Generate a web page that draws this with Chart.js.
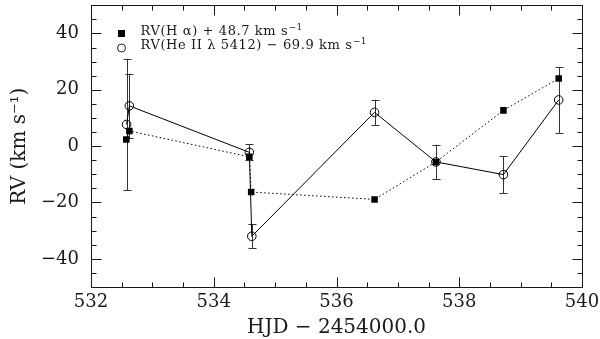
<!DOCTYPE html>
<html>
<head>
<meta charset="utf-8">
<script src="https://cdn.jsdelivr.net/npm/chart.js@4/dist/chart.umd.min.js"></script>
<style>
  html, body { margin: 0; padding: 0; background: #fff; }
  #wrap { width: 600px; height: 339px; }
</style>
</head>
<body>
<div id="wrap"><canvas id="c" width="600" height="339"></canvas></div>
<script>
// ---- data ----
const hjdHa = [532.575, 532.625, 534.58, 534.61, 536.62, 537.62, 538.72, 539.62];
const rvHa  = [2.4, 5.4, -3.8, -16.3, -18.9, -5.6, 12.7, 24.0];

const hjdHe = [532.58, 532.625, 534.58, 534.62, 536.62, 537.62, 538.72, 539.62];
const rvHe  = [7.7, 14.3, -2.2, -32.0, 12.0, -5.6, -10.1, 16.4];
const errHe = [23.3, 11.4, 2.8, 4.3, 4.5, 6.1, 6.6, 11.7];

const xTicks = [532, 534, 536, 538, 540];
const yTicks = [-40, -20, 0, 20, 40];
const xMinorStep = 0.5;
const yMinorStep = 5;

const labelHa = 'RV(H \u03B1) + 48.7 km s';
const labelHe = 'RV(He II \u03BB 5412) \u2212 69.9 km s';
const xTitle = 'HJD \u2212 2454000.0';
const yTitle = 'RV (km s\u207B\u00B9)';

// ---- chart ----
const FONT = "'DejaVu Serif', 'Liberation Serif', serif";
const INK = '#1a1a1a';

const errorBars = {
  id: 'errorBars',
  beforeDatasetsDraw(chart) {
    const { ctx, scales: { x, y } } = chart;
    ctx.save();
    ctx.strokeStyle = '#333';
    ctx.lineWidth = 1;
    for (let i = 0; i < hjdHe.length; i++) {
      const px = Math.round(x.getPixelForValue(hjdHe[i])) + 0.5;
      const yt = y.getPixelForValue(rvHe[i] + errHe[i]);
      const yb = y.getPixelForValue(rvHe[i] - errHe[i]);
      ctx.beginPath();
      ctx.moveTo(px, yt); ctx.lineTo(px, yb);
      ctx.moveTo(px - 4, Math.round(yt) + 0.5); ctx.lineTo(px + 4, Math.round(yt) + 0.5);
      ctx.moveTo(px - 4, Math.round(yb) + 0.5); ctx.lineTo(px + 4, Math.round(yb) + 0.5);
      ctx.stroke();
    }
    ctx.restore();
  }
};

const frameAndTicks = {
  id: 'frameAndTicks',
  afterDraw(chart) {
    const { ctx, scales: { x, y } } = chart;
    ctx.save();
    ctx.strokeStyle = INK;
    ctx.lineWidth = 1;
    const L = Math.round(x.getPixelForValue(x.min)) + 0.5;
    const R = Math.round(x.getPixelForValue(x.max)) + 0.5;
    const T = Math.round(y.getPixelForValue(y.max)) + 0.5;
    const B = Math.round(y.getPixelForValue(y.min)) + 0.5;
    ctx.strokeRect(L, T, R - L, B - T);
    const MAJ = 10, MIN = 5;
    ctx.beginPath();
    for (let v = x.min; v <= x.max + 1e-9; v += xMinorStep) {
      const isMaj = xTicks.some(t => Math.abs(t - v) < 1e-6);
      const len = isMaj ? MAJ : MIN;
      const px = Math.round(x.getPixelForValue(v)) + 0.5;
      ctx.moveTo(px, B); ctx.lineTo(px, B - len);
      ctx.moveTo(px, T); ctx.lineTo(px, T + len);
    }
    for (let v = y.min; v <= y.max + 1e-9; v += yMinorStep) {
      const isMaj = yTicks.some(t => Math.abs(t - v) < 1e-6);
      const len = isMaj ? MAJ : MIN;
      const py = Math.round(y.getPixelForValue(v)) + 0.5;
      ctx.moveTo(L, py); ctx.lineTo(L + len, py);
      ctx.moveTo(R, py); ctx.lineTo(R - len, py);
    }
    ctx.stroke();

    // legend inside the plot
    const mx = L + 30, tx = L + 49;
    const y1 = T + 28, y2 = T + 42.5;
    ctx.fillStyle = '#000';
    ctx.fillRect(Math.round(mx - 3.5), Math.round(y1 - 3.5), 7, 7);
    ctx.beginPath();
    ctx.arc(mx, y2, 4, 0, Math.PI * 2);
    ctx.stroke();

    ctx.fillStyle = INK;
    ctx.textBaseline = 'alphabetic';
    ctx.textAlign = 'left';
    const drawLbl = (txt, base) => {
      ctx.font = "13px " + FONT;
      ctx.letterSpacing = '0.6px';
      ctx.fillText(txt, tx, base);
      const w = ctx.measureText(txt).width;
      ctx.font = "9px " + FONT;
      ctx.letterSpacing = '0.3px';
      ctx.fillText('\u22121', tx + w + 0.5, base - 5.5);
    };
    drawLbl(labelHa, T + 29.5);
    drawLbl(labelHe, T + 43.5);
    ctx.restore();
  }
};

const tickFont = { family: FONT, size: 18 };
const titleFont = { family: FONT, size: 20 };

new Chart(document.getElementById('c'), {
  type: 'line',
  data: {
    datasets: [
      {
        label: labelHa,
        data: hjdHa.map((v, i) => ({ x: v, y: rvHa[i] })),
        borderColor: '#000',
        borderWidth: 1,
        borderDash: [1.5, 2.5],
        pointStyle: 'rect',
        pointRadius: 4.6,
        pointBorderWidth: 0,
        pointBackgroundColor: '#000',
        pointBorderColor: '#000',
        fill: false,
        tension: 0
      },
      {
        label: labelHe,
        data: hjdHe.map((v, i) => ({ x: v, y: rvHe[i] })),
        borderColor: '#000',
        borderWidth: 1,
        pointStyle: 'circle',
        pointRadius: 4.3,
        pointBorderWidth: 1,
        pointBackgroundColor: 'rgba(0,0,0,0)',
        pointBorderColor: '#000',
        fill: false,
        tension: 0
      }
    ]
  },
  options: {
    responsive: false,
    animation: false,
    events: [],
    layout: { padding: { left: 0, top: 4, right: 18, bottom: 0 } },
    plugins: { legend: { display: false }, tooltip: { enabled: false } },
    scales: {
      x: {
        type: 'linear',
        min: 532, max: 540,
        afterBuildTicks: s => { s.ticks = xTicks.map(v => ({ value: v })); },
        afterFit: s => { s.height = 52; s.paddingLeft = 0; s.paddingRight = 0; s.paddingTop = 0; s.paddingBottom = 0; },
        grid: { display: false, drawTicks: false },
        border: { display: false },
        ticks: { font: tickFont, color: INK, padding: 5, autoSkip: false, maxRotation: 0, callback: v => String(v) },
        title: { display: true, text: xTitle, font: titleFont, color: INK, padding: { top: 0, bottom: -1 } }
      },
      y: {
        type: 'linear',
        min: -50, max: 50,
        afterBuildTicks: s => { s.ticks = yTicks.map(v => ({ value: v })); },
        afterFit: s => { s.width = 91; s.paddingLeft = 0; s.paddingRight = 0; s.paddingTop = 0; s.paddingBottom = 0; },
        grid: { display: false, drawTicks: false },
        border: { display: false },
        ticks: { font: tickFont, color: INK, padding: 12, autoSkip: false, callback: v => (v < 0 ? '\u2212' + Math.abs(v) : String(v)) },
        title: { display: true, text: yTitle, font: titleFont, color: INK, padding: { top: 8, bottom: 0 } }
      }
    }
  },
  plugins: [errorBars, frameAndTicks]
});
</script>
</body>
</html>
